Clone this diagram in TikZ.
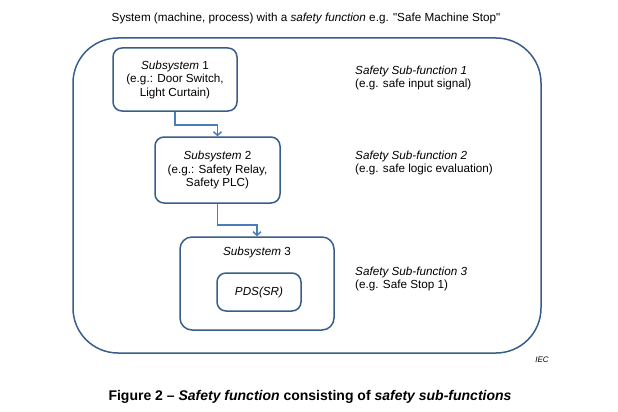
\documentclass[tikz,border=0pt]{standalone}
\usepackage{fontspec}
\setmainfont{Liberation Sans}
\usepackage{tikz}
\usetikzlibrary{calc,positioning,arrows,arrows.meta}

\definecolor{boxblue}{RGB}{56,93,138}
\definecolor{arrowblue}{RGB}{74,126,187}

\begin{document}
\begin{tikzpicture}[x=1pt, y=-1pt]
  \useasboundingbox (0,0) rectangle (618,412);

  % ---- styles ------------------------------------------------
  \tikzstyle{subbox}=[draw=boxblue, line width=1.5pt, rounded corners=9pt,
                      align=center, font=\fontsize{11.7}{13.5}\selectfont]
  \tikzstyle{conn}=[draw=arrowblue, line width=1.5pt,
                    -{Straight Barb[length=3.5pt, width=8pt]}]
  \tikzstyle{sublabel}=[anchor=north west, align=left, inner sep=0pt,
                        font=\fontsize{11.7}{12.5}\selectfont]

  % ---- title -------------------------------------------------
  \node[font=\fontsize{11.7}{13}\selectfont] (title) at (306,18)
    {System (machine, process) with a \textit{safety function} e.g. \textquotedbl Safe Machine Stop\textquotedbl};

  % ---- outer system box --------------------------------------
  \node[draw=boxblue, line width=1.5pt, rounded corners=45pt,
        minimum width=468pt, minimum height=315pt] (outer) at (307,195.5) {};

  % ---- subsystems --------------------------------------------
  \node[subbox, minimum width=124pt, minimum height=63pt] (box1) at (175,79.5)
    {\textit{Subsystem} 1\\(e.g.: Door Switch,\\Light Curtain)};
  \node[subbox, minimum width=125pt, minimum height=66pt] (box2) at (217.5,170)
    {\textit{Subsystem} 2\\(e.g.: Safety Relay,\\Safety PLC)};
  \node[subbox, rounded corners=12pt, minimum width=154pt, minimum height=93pt]
    (box3) at (257,283.5) {};
  \node[font=\fontsize{11.7}{13}\selectfont] (box3text) at (257,252) {\textit{Subsystem} 3};
  \node[subbox, minimum width=84pt, minimum height=38pt] (pds) at (259,292)
    {\textit{PDS(SR)}};

  % ---- connectors --------------------------------------------
  \draw[conn] (box1.south) -- ++(0,13) -| (box2.north);
  \draw[conn] (box2.south) -- ++(0,21) -| (box3.north);

  % ---- sub-function labels -----------------------------------
  \node[sublabel] (sf1) at (355,66) {\textit{Safety Sub-function 1}\\(e.g. safe input signal)};
  \node[sublabel] (sf2) at (355,151) {\textit{Safety Sub-function 2}\\(e.g. safe logic evaluation)};
  \node[sublabel] (sf3) at (355,267) {\textit{Safety Sub-function 3}\\(e.g. Safe Stop 1)};

  % ---- IEC mark and caption ----------------------------------
  \node[font=\fontsize{8}{9}\selectfont\itshape] (iec) at (542,360) {IEC};
  \node[font=\fontsize{14}{16}\selectfont\bfseries] (caption) at (310,397)
    {Figure 2 -- \textit{Safety function} consisting of \textit{safety sub-functions}};
\end{tikzpicture}
\end{document}
